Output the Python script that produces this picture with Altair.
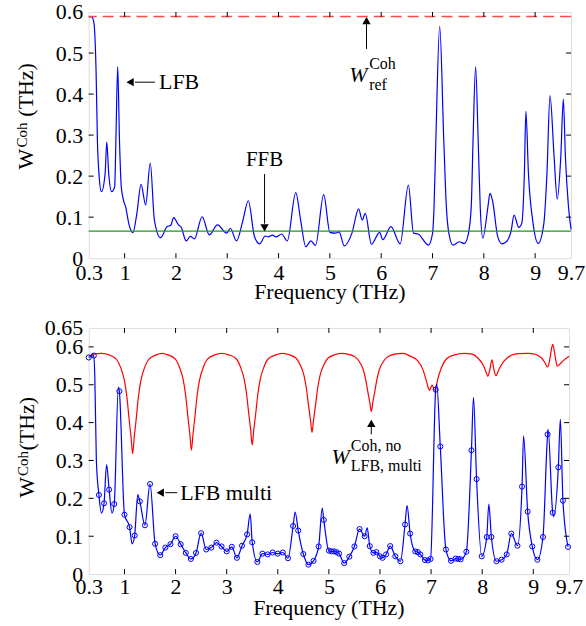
import altair as alt
import pandas as pd

FONT = "Liberation Serif"
BLUE = "#0000ff"
RED = "#ff0000"
REF_RED = "#ff4a4a"
GREEN = "#1a9a1a"

# ---------------- data ----------------
top_freq = [0.30, 0.36, 0.40, 0.445, 0.47, 0.50, 0.548, 0.62, 0.652, 0.69, 0.748, 0.806, 0.83, 0.865,
            0.90, 0.935, 0.98, 1.02, 1.08, 1.16, 1.24, 1.32, 1.41, 1.50, 1.58, 1.70, 1.83, 1.90, 1.955,
            2.05, 2.10, 2.20, 2.28, 2.36, 2.51, 2.65, 2.81, 2.99, 3.06, 3.18, 3.30, 3.41, 3.53, 3.63,
            3.74, 3.80, 3.88, 3.95, 4.06, 4.17, 4.335, 4.43, 4.53, 4.63, 4.72, 4.88, 5.00, 5.11, 5.18,
            5.28, 5.43, 5.56, 5.63, 5.69, 5.81, 5.97, 6.03, 6.19, 6.37, 6.53, 6.63, 6.72, 6.92, 7.00,
            7.03, 7.065, 7.14, 7.22, 7.27, 7.32, 7.40, 7.52, 7.62, 7.70, 7.755, 7.79, 7.84, 7.89, 7.93,
            7.98, 8.08, 8.12, 8.17, 8.27, 8.35, 8.42, 8.53, 8.59, 8.68, 8.74, 8.79, 8.82, 8.87, 8.96,
            9.06, 9.17, 9.23, 9.29, 9.37, 9.43, 9.50, 9.55, 9.59, 9.65, 9.70]
top_val = [0.589, 0.588, 0.575, 0.449, 0.287, 0.206, 0.162, 0.206, 0.283, 0.206, 0.162, 0.174, 0.287, 0.467,
           0.287, 0.174, 0.140, 0.125, 0.085, 0.062, 0.110, 0.180, 0.130, 0.232, 0.093, 0.050, 0.077, 0.080, 0.099,
           0.081, 0.076, 0.042, 0.053, 0.047, 0.101, 0.057, 0.081, 0.061, 0.073, 0.042, 0.089, 0.140, 0.053, 0.035,
           0.054, 0.052, 0.056, 0.052, 0.059, 0.042, 0.160, 0.093, 0.028, 0.042, 0.031, 0.155, 0.063, 0.061, 0.064,
           0.030, 0.061, 0.120, 0.093, 0.109, 0.034, 0.063, 0.045, 0.077, 0.035, 0.178, 0.061, 0.059, 0.032, 0.060,
           0.125, 0.287, 0.565, 0.287, 0.125, 0.060, 0.032, 0.040, 0.036, 0.060, 0.125, 0.287, 0.467, 0.287, 0.125,
           0.049, 0.125, 0.158, 0.140, 0.053, 0.035, 0.038, 0.065, 0.105, 0.075, 0.085, 0.206, 0.358, 0.206, 0.085,
           0.036, 0.085, 0.206, 0.396, 0.247, 0.144, 0.247, 0.388, 0.247, 0.125, 0.070]
ref_level = 0.589
ffb_level = 0.066

# bottom panel: sampled points (circles)
bot_freq = [0.3, 0.4, 0.5, 0.6, 0.7, 0.8, 0.9, 1.0, 1.1, 1.2, 1.3, 1.4, 1.5, 1.6, 1.7, 1.8, 1.9, 2.0,
            2.1, 2.2, 2.3, 2.4, 2.5, 2.6, 2.7, 2.8, 2.9, 3.0, 3.1, 3.2, 3.3, 3.4, 3.5, 3.6, 3.7, 3.8,
            3.9, 4.0, 4.1, 4.2, 4.3, 4.4, 4.5, 4.6, 4.7, 4.8, 4.9, 5.0, 5.05, 5.1, 5.15, 5.2, 5.3,
            5.4, 5.5, 5.6, 5.7, 5.8, 5.87, 5.93, 6.0, 6.05, 6.12, 6.2, 6.3, 6.4, 6.49, 6.59, 6.69,
            6.74, 6.79, 6.88, 6.94, 6.99, 7.09, 7.18, 7.29, 7.39, 7.48, 7.53, 7.58, 7.69, 7.79, 7.89,
            7.99, 8.09, 8.18, 8.28, 8.38, 8.48, 8.57, 8.69, 8.78, 8.89, 8.98, 9.08, 9.19, 9.28, 9.38,
            9.49, 9.58, 9.68]
bot_val = [0.572, 0.577, 0.209, 0.187, 0.223, 0.185, 0.483, 0.157, 0.124, 0.102, 0.192, 0.129, 0.238, 0.080,
           0.050, 0.070, 0.079, 0.100, 0.079, 0.056, 0.040, 0.056, 0.108, 0.065, 0.070, 0.083, 0.073, 0.060,
           0.072, 0.043, 0.075, 0.105, 0.084, 0.032, 0.054, 0.052, 0.057, 0.054, 0.057, 0.042, 0.127, 0.115,
           0.053, 0.025, 0.035, 0.073, 0.143, 0.062, 0.060, 0.060, 0.058, 0.054, 0.029, 0.046, 0.073, 0.119,
           0.100, 0.074, 0.056, 0.058, 0.047, 0.043, 0.052, 0.074, 0.047, 0.034, 0.131, 0.107, 0.060, 0.058,
           0.052, 0.037, 0.036, 0.040, 0.487, 0.337, 0.065, 0.035, 0.041, 0.040, 0.039, 0.059, 0.327, 0.251,
           0.047, 0.098, 0.098, 0.034, 0.038, 0.052, 0.107, 0.075, 0.231, 0.165, 0.073, 0.038, 0.098, 0.369,
           0.162, 0.282, 0.194, 0.072]
# bottom panel: extra line points between samples (peaks / troughs)
bot_peak_freq = [0.42, 0.45, 0.55, 0.65, 0.755, 0.88, 1.15, 1.26, 3.46, 4.34, 4.87, 5.75, 6.53,
                 7.11, 7.83, 8.13, 8.81, 9.29, 9.40, 9.53]
bot_peak_val = [0.52, 0.30, 0.161, 0.289, 0.161, 0.494, 0.080, 0.210, 0.159, 0.164, 0.174, 0.122, 0.181,
                0.502, 0.467, 0.185, 0.365, 0.382, 0.152, 0.409]

# bottom panel: red curve (no LFB, multi)
red_freq = [0.30, 0.40, 0.55, 0.70, 0.85, 0.93, 1.00, 1.05, 1.09, 1.13, 1.16, 1.19, 1.23, 1.27, 1.32, 1.39,
            1.47, 1.62, 1.735, 1.85, 2.00, 2.08, 2.15, 2.20, 2.24, 2.28, 2.31, 2.34, 2.38, 2.42, 2.47,
            2.54, 2.62, 2.77, 2.90, 3.04, 3.19, 3.27, 3.34, 3.39, 3.43, 3.47, 3.50, 3.53, 3.57, 3.61,
            3.66, 3.73, 3.81, 3.96, 4.085, 4.21, 4.36, 4.44, 4.51, 4.56, 4.60, 4.64, 4.67, 4.70, 4.74,
            4.78, 4.83, 4.90, 4.98, 5.13, 5.25, 5.37, 5.52, 5.60, 5.67, 5.72, 5.76, 5.80, 5.83, 5.86,
            5.90, 5.94, 5.99, 6.06, 6.14, 6.29, 6.45, 6.60, 6.74, 6.84, 6.90, 6.95, 6.97, 7.02, 7.07,
            7.10, 7.13, 7.20, 7.30, 7.46, 7.65, 7.80, 7.92, 8.03, 8.08, 8.11, 8.15, 8.19, 8.23, 8.27,
            8.31, 8.36, 8.50, 8.70, 8.90, 9.05, 9.15, 9.22, 9.28, 9.32, 9.35, 9.38, 9.41, 9.44, 9.47,
            9.53, 9.60, 9.70]
red_val = [0.576, 0.581, 0.583, 0.579, 0.566, 0.544, 0.510, 0.465, 0.410, 0.360, 0.318, 0.360, 0.410, 0.465,
           0.510, 0.544, 0.566, 0.579, 0.583, 0.579, 0.567, 0.545, 0.513, 0.469, 0.417, 0.368, 0.327, 0.368,
           0.417, 0.469, 0.513, 0.545, 0.567, 0.579, 0.583, 0.579, 0.568, 0.547, 0.516, 0.475, 0.426, 0.380,
           0.341, 0.380, 0.426, 0.475, 0.516, 0.547, 0.568, 0.579, 0.583, 0.580, 0.570, 0.552, 0.526, 0.490,
           0.447, 0.407, 0.374, 0.407, 0.447, 0.490, 0.526, 0.552, 0.570, 0.580, 0.583, 0.581, 0.573, 0.560,
           0.541, 0.514, 0.483, 0.454, 0.429, 0.454, 0.483, 0.514, 0.541, 0.560, 0.573, 0.581, 0.583, 0.575,
           0.563, 0.540, 0.514, 0.490, 0.485, 0.499, 0.486, 0.495, 0.514, 0.544, 0.568, 0.579, 0.583, 0.581,
           0.570, 0.549, 0.532, 0.522, 0.540, 0.566, 0.540, 0.524, 0.535, 0.549, 0.572, 0.582, 0.583, 0.580,
           0.572, 0.560, 0.547, 0.565, 0.590, 0.607, 0.590, 0.565, 0.549, 0.556, 0.565, 0.575]

x_tick_labels = [0.3, 1, 2, 3, 4, 5, 6, 7, 8, 9, 9.7]
x_tick_marks = [1, 2, 3, 4, 5, 6, 7, 8, 9]
top_y_labels = [0, 0.1, 0.2, 0.3, 0.4, 0.5, 0.6]
top_y_marks = [0.1, 0.2, 0.3, 0.4, 0.5]
bot_y_labels = [0, 0.1, 0.2, 0.3, 0.4, 0.5, 0.6, 0.65]
bot_y_marks = [0.1, 0.2, 0.3, 0.4, 0.5, 0.6]

# annotations (data coordinates)
top_texts_left = pd.DataFrame({"f": [1.67], "v": [0.429], "t": ["LFB"]})
top_texts_center = pd.DataFrame({"f": [3.727], "v": [0.225], "t": ["FFB"]})
top_shafts = pd.DataFrame({"f": [1.20, 3.727, 5.714], "f2": [1.59, 3.727, 5.714],
                           "v": [0.429, 0.205, 0.57], "v2": [0.429, 0.084, 0.51]})
top_heads = pd.DataFrame({"f": [1.106, 3.727, 5.714], "v": [0.429, 0.074, 0.579],
                          "s": ["triangle-left", "triangle-down", "triangle-up"]})
bot_texts = pd.DataFrame({"f": [2.09], "v": [0.215], "t": ["LFB multi"]})
bot_shafts = pd.DataFrame({"f": [1.80, 5.83], "f2": [2.03, 5.83], "v": [0.215, 0.388], "v2": [0.215, 0.369]})
bot_heads = pd.DataFrame({"f": [1.70, 5.83], "v": [0.215, 0.398], "s": ["triangle-left", "triangle-up"]})

TW, TH = 484, 247
BW, BH = 482, 247

x_scale = alt.Scale(domain=[0.3, 9.7], nice=False, zero=False)


def x_axis(pad):
    return alt.Axis(values=x_tick_labels, labelExpr="'' + datum.value", title=None, ticks=False,
                    tickSize=0, domain=False, grid=False, labelFlush=False, labelOverlap=False,
                    labelPadding=pad, labelBaseline="alphabetic", labelFont=FONT, labelFontSize=22,
                    labelColor="black")


def y_axis(vals):
    return alt.Axis(values=vals, labelExpr="'' + datum.value", title=None, ticks=False, tickSize=0,
                    domain=False, grid=False, labelOverlap=False, labelFlush=False, labelPadding=6,
                    labelFont=FONT, labelFontSize=22, labelColor="black", labelBaseline="middle")


def panel(ydom, yvals, xpad):
    X = alt.X("f:Q", scale=x_scale, axis=x_axis(xpad))
    X2 = alt.X2("f2:Q")
    Y = alt.Y("v:Q", scale=alt.Scale(domain=ydom, nice=False, zero=False), axis=y_axis(yvals))
    Y2 = alt.Y2("v2:Q")
    return X, X2, Y, Y2


def frame_ticks(w, h, X, Y, xs, ys):
    xt = pd.DataFrame({"f": xs})
    yt = pd.DataFrame({"v": ys})
    return [
        alt.Chart(xt).mark_rule(color="black", strokeWidth=1).encode(x=X, y=alt.value(h), y2=alt.value(h - 5)),
        alt.Chart(xt).mark_rule(color="black", strokeWidth=1).encode(x=X, y=alt.value(0), y2=alt.value(5)),
        alt.Chart(yt).mark_rule(color="black", strokeWidth=1).encode(y=Y, x=alt.value(0), x2=alt.value(5)),
        alt.Chart(yt).mark_rule(color="black", strokeWidth=1).encode(y=Y, x=alt.value(w), x2=alt.value(w - 5)),
    ]


def txt(df, X, Y, size=22, align="left", baseline="middle", style="normal"):
    return alt.Chart(df).mark_text(font=FONT, fontSize=size, align=align, baseline=baseline,
                                   fontStyle=style, color="black").encode(x=X, y=Y, text="t:N")


def ylab(parts):
    layers = []
    for t, x, y, size in parts:
        layers.append(alt.Chart(pd.DataFrame({"t": [t]})).mark_text(
            font=FONT, fontSize=size, angle=270, align="left", baseline="alphabetic", color="black"
        ).encode(x=alt.value(x), y=alt.value(y), text="t:N"))
    return layers


def xtitle(w, y):
    return alt.Chart(pd.DataFrame({"t": ["Frequency (THz)"]})).mark_text(
        font=FONT, fontSize=22, align="center", baseline="alphabetic", color="black"
    ).encode(x=alt.value(w / 2), y=alt.value(y), text="t:N")


def heads(df, X, Y):
    out = []
    for _, r in df.iterrows():
        out.append(alt.Chart(pd.DataFrame({"f": [r.f], "v": [r.v]})).mark_point(
            shape=r.s, filled=True, size=70, color="black", opacity=1).encode(x=X, y=Y))
    return out


# ---------------- top panel ----------------
X, X2, Y, Y2 = panel([0, 0.6], top_y_labels, 21)
top_df = pd.DataFrame({"f": top_freq, "v": top_val})
top_line = alt.Chart(top_df).mark_line(color=BLUE, strokeWidth=1.2, interpolate="monotone").encode(x=X, y=Y)
ref_rule = alt.Chart(pd.DataFrame({"v": [ref_level]})).mark_rule(
    color=REF_RED, strokeWidth=1.5, strokeDash=[11, 6]).encode(y=Y)
ffb_rule = alt.Chart(pd.DataFrame({"v": [ffb_level]})).mark_rule(color=GREEN, strokeWidth=1.2).encode(y=Y)

wref = [
    txt(pd.DataFrame({"f": [5.38], "v": [0.429], "t": ["W"]}), X, Y, size=22, baseline="alphabetic", style="italic"),
    txt(pd.DataFrame({"f": [5.766], "v": [0.461], "t": ["Coh"]}), X, Y, size=16, baseline="alphabetic"),
    txt(pd.DataFrame({"f": [5.766], "v": [0.411], "t": ["ref"]}), X, Y, size=16, baseline="alphabetic"),
]
top_ann = [
    txt(top_texts_left, X, Y, size=22),
    txt(top_texts_center, X, Y, size=21, align="center", baseline="alphabetic"),
    alt.Chart(top_shafts).mark_rule(color="black", strokeWidth=1).encode(x=X, x2=X2, y=Y, y2=Y2),
] + heads(top_heads, X, Y) + wref

top = alt.layer(
    top_line, ffb_rule, ref_rule, *frame_ticks(TW, TH, X, Y, x_tick_marks, top_y_marks), *top_ann,
    *ylab([("W", -55.5, 158, 22), ("Coh", -61.5, 136, 15), ("(THz)", -55.5, 105, 22)]),
    xtitle(TW, TH + 41),
).properties(width=TW, height=TH)

# ---------------- bottom panel ----------------
X, X2, Y, Y2 = panel([0, 0.65], bot_y_labels, 19)
bot_pts = pd.DataFrame({"f": bot_freq, "v": bot_val})
bot_line_df = pd.concat([bot_pts, pd.DataFrame({"f": bot_peak_freq, "v": bot_peak_val})]).sort_values("f")
red_df = pd.DataFrame({"f": red_freq, "v": red_val})

red_line = alt.Chart(red_df).mark_line(color=RED, strokeWidth=1.2, interpolate="monotone").encode(x=X, y=Y)
blue_line = alt.Chart(bot_line_df).mark_line(color=BLUE, strokeWidth=1.2, interpolate="monotone").encode(x=X, y=Y)
blue_pts = alt.Chart(bot_pts).mark_point(shape="circle", filled=False, size=26, color=BLUE,
                                         strokeWidth=1, opacity=1).encode(x=X, y=Y)

wno = [
    txt(pd.DataFrame({"f": [5.05], "v": [0.291], "t": ["W"]}), X, Y, size=22, baseline="alphabetic", style="italic"),
    txt(pd.DataFrame({"f": [5.43], "v": [0.325], "t": ["Coh, no"]}), X, Y, size=16, baseline="alphabetic"),
    txt(pd.DataFrame({"f": [5.43], "v": [0.273], "t": ["LFB, multi"]}), X, Y, size=16, baseline="alphabetic"),
]
bot_ann = [
    txt(bot_texts, X, Y, size=22),
    alt.Chart(bot_shafts).mark_rule(color="black", strokeWidth=1).encode(x=X, x2=X2, y=Y, y2=Y2),
] + heads(bot_heads, X, Y) + wno

bottom = alt.layer(
    red_line, blue_line, blue_pts, *frame_ticks(BW, BH, X, Y, x_tick_marks, bot_y_marks), *bot_ann,
    *ylab([("W", -55.3, 170.3, 22), ("Coh", -61.3, 148.5, 15), ("(THz)", -55.3, 123, 22)]),
    xtitle(BW, BH + 41),
).properties(width=BW, height=BH)

chart = alt.vconcat(top, bottom, spacing=70, bounds="flush").properties(
    padding={"left": 15, "top": -1, "right": 0, "bottom": 0}
).configure_view(stroke="black", strokeWidth=1).configure(background="white")

chart.save("out.html", embed_options={"renderer": "svg", "actions": False})
